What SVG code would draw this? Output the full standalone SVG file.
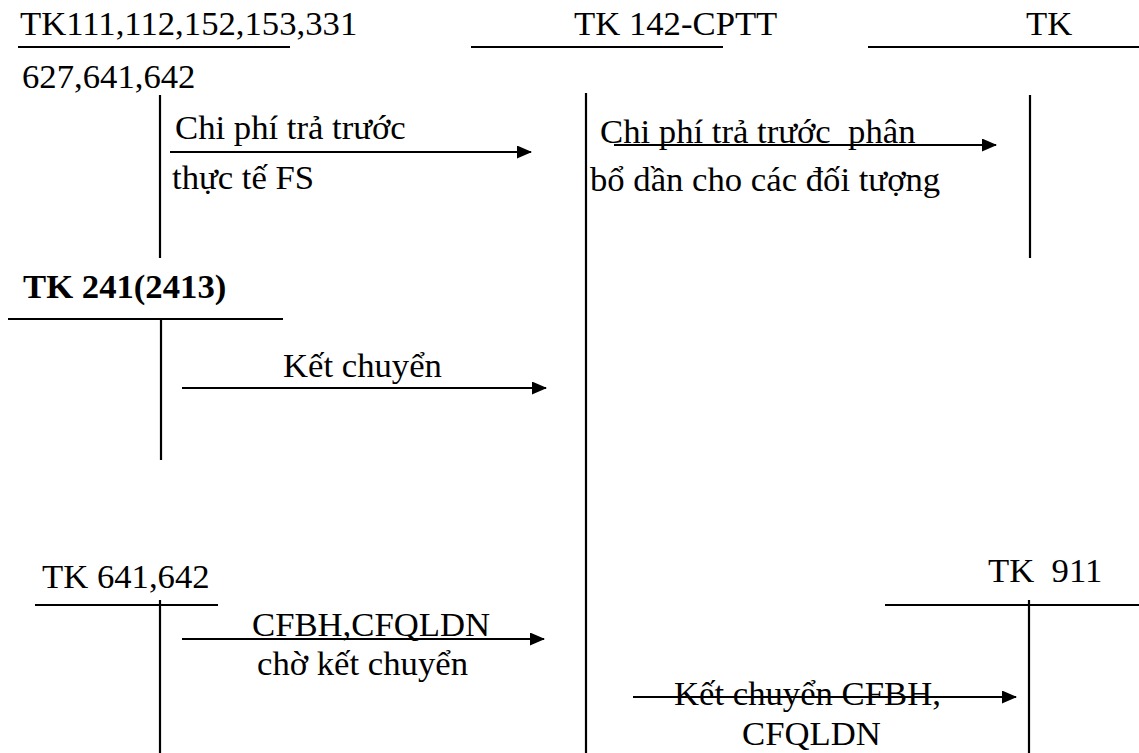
<svg xmlns="http://www.w3.org/2000/svg" width="1139" height="753" viewBox="0 0 1139 753">
<style>
text{font-family:"Liberation Serif","Times New Roman",serif;font-size:34.7px;fill:#000;white-space:pre}
.b{font-weight:bold}
.ln{stroke:#000;stroke-width:2.2;fill:none}
.ar{stroke:#000;stroke-width:2;fill:none;marker-end:url(#ah)}
</style>
<defs>
<marker id="ah" viewBox="0 0 15 13" refX="14" refY="6.5" markerWidth="15" markerHeight="13" markerUnits="userSpaceOnUse" orient="auto">
<path d="M0,0 L15,6.5 L0,13 Z" fill="#000"/>
</marker>
</defs>
<rect width="1139" height="753" fill="#fff"/>
<g id="tk111">
<text x="20" y="35">TK111,112,152,153,331</text>
<line class="ln" x1="18" y1="47" x2="290" y2="47"/>
<text x="22" y="88">627,641,642</text>
<line class="ln" x1="160" y1="95" x2="160" y2="258"/>
<text x="175" y="139">Chi phí trả trước</text>
<text x="172" y="189">thực tế FS</text>
</g>
<g id="tk142">
<text x="574" y="35">TK 142-CPTT</text>
<line class="ln" x1="471" y1="47" x2="723" y2="47"/>
<line class="ln" x1="586" y1="93" x2="586" y2="753"/>
<text x="600" y="143" xml:space="preserve">Chi phí trả trước  phân</text>
<text x="590" y="191">bổ dần cho các đối tượng</text>
</g>
<g id="tk-right">
<text x="1026" y="35">TK</text>
<line class="ln" x1="868" y1="47" x2="1139" y2="47"/>
<line class="ln" x1="1030" y1="95" x2="1030" y2="258"/>
</g>
<g id="tk241">
<text class="b" x="23" y="298">TK 241(2413)</text>
<line class="ln" x1="8" y1="319" x2="283" y2="319"/>
<line class="ln" x1="161" y1="319" x2="161" y2="460"/>
<text x="283" y="377">Kết chuyển</text>
</g>
<g id="tk641">
<text x="42" y="588">TK 641,642</text>
<line class="ln" x1="35" y1="605" x2="218" y2="605"/>
<line class="ln" x1="160" y1="600" x2="160" y2="753"/>
<text x="252" y="636">CFBH,CFQLDN</text>
<text x="257" y="675">chờ kết chuyển</text>
</g>
<g id="tk911">
<text x="988" y="582" xml:space="preserve">TK  911</text>
<line class="ln" x1="885" y1="605" x2="1139" y2="605"/>
<line class="ln" x1="1029" y1="600" x2="1029" y2="753"/>
<text x="674" y="705">Kết chuyển CFBH,</text>
<text x="742" y="745">CFQLDN</text>
</g>
<g id="connectors">
<line class="ar" x1="170" y1="152" x2="531" y2="152"/>
<line class="ar" x1="614" y1="145" x2="996" y2="145"/>
<line class="ar" x1="182" y1="388" x2="546" y2="388"/>
<line class="ar" x1="182" y1="639" x2="544" y2="639"/>
<line class="ar" x1="633" y1="697" x2="1016" y2="697"/>
</g>
</svg>
